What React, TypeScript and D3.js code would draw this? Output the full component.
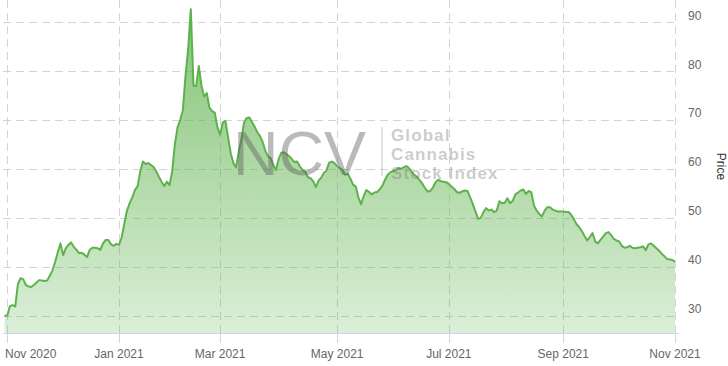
import React from 'react';
import * as d3 from 'd3';

const WIDTH = 728;
const HEIGHT = 366;

// Trading calendar (x categories)
const firstTradingDay = '2020-10-30';
const lastTradingDay = '2021-11-01';
const marketHolidays = [
  '2020-11-26', '2020-12-25', '2021-01-01', '2021-01-18', '2021-02-15',
  '2021-04-02', '2021-05-31', '2021-07-05', '2021-09-06',
];

// Index closing price, one per trading day
const prices = [
  30.1, 30.0, 32.0, 32.2, 31.9, 36.5, 37.7, 37.5, 36.3, 36.0, 35.9, 36.3, 36.8, 37.3, 37.2, 37.1, 37.2,
  38.2, 39.3, 41.0, 43.0, 44.8, 42.4, 43.8, 44.5, 45.0, 44.1, 43.5, 42.8, 42.9, 42.5, 42.0, 43.5,
  43.9, 43.9, 43.8, 43.5, 44.8, 45.5, 45.5, 44.6, 44.3, 44.7, 44.5, 46.0, 48.8, 51.5, 53.0, 54.2,
  55.7, 56.5, 59.5, 61.5, 61.0, 61.2, 60.8, 60.4, 59.5, 58.4, 57.4, 56.5, 57.4, 56.7, 59.5, 65.0,
  68.5, 70.0, 72.0, 79.0, 84.5, 92.6, 77.0, 76.9, 81.0, 77.0, 74.8, 75.5, 72.5, 71.8, 71.5, 68.5,
  67.0, 69.5, 69.8, 66.5, 63.2, 61.2, 60.3, 63.5, 66.0, 69.5, 70.4, 70.5, 69.6, 68.6, 67.5, 66.7,
  65.5, 63.7, 62.6, 62.2, 60.8, 59.8, 62.0, 63.3, 63.4, 63.0, 62.6, 62.0, 61.4, 61.5, 60.5, 59.8,
  59.4, 58.3, 58.1, 57.5, 56.3, 57.6, 58.2, 59.2, 59.7, 61.3, 61.5, 61.2, 60.6, 60.1, 59.8, 58.8,
  59.0, 58.0, 56.8, 56.4, 54.2, 52.8, 54.5, 55.7, 55.3, 54.8, 55.2, 55.3, 55.8, 56.6, 57.8, 58.8,
  59.3, 59.6, 59.7, 60.2, 60.0, 60.3, 60.6, 60.2, 59.4, 58.8, 58.4, 57.7, 57.0, 56.1, 55.4, 55.5,
  56.2, 57.3, 57.8, 57.5, 57.4, 57.3, 56.9, 56.4, 55.9, 55.3, 55.1, 55.4, 55.6, 55.5, 54.2, 52.8,
  51.3, 49.8, 50.0, 51.2, 52.0, 51.5, 51.7, 51.2, 51.5, 53.4, 53.0, 53.1, 54.0, 53.0, 53.5, 54.8,
  55.2, 55.6, 55.8, 54.9, 55.5, 55.2, 52.5, 51.5, 50.8, 50.3, 51.5, 52.2, 52.2, 51.7, 51.5, 51.3,
  51.3, 51.3, 51.2, 51.2, 50.6, 49.7, 48.7, 48.1, 47.3, 46.3, 45.4, 46.1, 46.9, 45.2, 44.8, 45.5,
  46.2, 46.9, 47.1, 46.5, 45.7, 45.4, 45.2, 44.3, 43.9, 44.0, 44.3, 43.9, 43.8, 43.9, 44.0, 44.2,
  43.4, 44.6, 44.8, 44.3, 43.8, 43.3, 42.7, 42.2, 41.6, 41.5, 41.4, 41.1,
];

const xTickMonths = ['2020-11', '2021-01', '2021-03', '2021-05', '2021-07', '2021-09', '2021-11'];
const yTicks = [30, 40, 50, 60, 70, 80, 90];
const yDomain = [26.5, 94.5];
const yTitle = 'Price';
const watermarkBrand = 'NCV';
const watermarkLines = ['Global', 'Cannabis', 'Stock Index'];

const parseDay = d3.timeParse('%Y-%m-%d');
const parseMonth = d3.timeParse('%Y-%m');
const fmtMonth = d3.timeFormat('%b %Y');
const fmtDay = d3.timeFormat('%Y-%m-%d');

const holidaySet = new Set(marketHolidays);
const tradingDates = d3.timeDay
  .range(parseDay(firstTradingDay)!, d3.timeDay.offset(parseDay(lastTradingDay)!, 1))
  .filter((d) => d.getDay() !== 0 && d.getDay() !== 6 && !holidaySet.has(fmtDay(d)));

const FONT = '"Liberation Sans", Arial, Helvetica, sans-serif';

const plot = { left: 3, right: 675, top: 0, bottom: 333 };

function textWidth(s: string, font: string) {
  if (typeof document === 'undefined') return s.length * 6.5;
  const c = document.createElement('canvas').getContext('2d');
  if (!c) return s.length * 6.5;
  c.font = font;
  return c.measureText(s).width;
}

export default function App() {
  const n = Math.min(tradingDates.length, prices.length);
  const x = d3.scaleLinear().domain([0, n - 1]).range([4.6, plot.right]);
  const y = d3.scaleLinear().domain(yDomain).range([plot.bottom, plot.top]);

  const data = d3.range(n).map((i) => ({ i, date: tradingDates[i], v: prices[i] }));

  const line = d3.line<{ i: number; v: number }>().x((d) => x(d.i)).y((d) => y(d.v));
  const area = d3
    .area<{ i: number; v: number }>()
    .x((d) => x(d.i))
    .y0(plot.bottom)
    .y1((d) => y(d.v));

  const xTicks = xTickMonths.map((m) => {
    const md = parseMonth(m)!;
    const idx = d3.bisectLeft(tradingDates, md);
    return { label: fmtMonth(md), x: x(Math.min(idx, n - 1)) };
  });

  const labelFont = `12px ${FONT}`;
  const gridColor = '#d4d4d4';
  const dash = '8,5';

  return (
    <div style={{ position: 'fixed', left: 0, top: 0, width: WIDTH, height: HEIGHT, background: '#fff' }}>
      <svg width={WIDTH} height={HEIGHT} style={{ display: 'block' }} fontFamily={FONT}>
        <defs>
          <linearGradient id="areaFill" gradientUnits="userSpaceOnUse" x1="0" y1={plot.top} x2="0" y2={plot.bottom}>
            <stop offset="0" stopColor="#5eb24c" stopOpacity={0.78} />
            <stop offset="1" stopColor="#5eb24c" stopOpacity={0.22} />
          </linearGradient>
        </defs>

        {/* horizontal grid */}
        {yTicks.map((t) => (
          <line key={'h' + t} x1={plot.left} x2={plot.right} y1={Math.round(y(t)) + 0.5} y2={Math.round(y(t)) + 0.5}
            stroke={gridColor} strokeWidth={1} strokeDasharray={dash} />
        ))}
        {/* vertical grid */}
        {xTicks.map((t) => (
          <line key={'v' + t.label} x1={Math.round(t.x) + 0.5} x2={Math.round(t.x) + 0.5} y1={plot.top} y2={plot.bottom}
            stroke={gridColor} strokeWidth={1} strokeDasharray={dash} />
        ))}

        <path d={area(data) || ''} fill="url(#areaFill)" />
        <path d={line(data) || ''} fill="none" stroke="#5eb24c" strokeWidth={2} strokeLinejoin="round" />

        {/* watermark */}
        <g pointerEvents="none">
          <text x={233} y={175} fontSize={63} fill="rgba(90,90,90,0.42)" fontFamily={FONT}>{watermarkBrand}</text>
          <line x1={382} x2={382} y1={127} y2={176} stroke="rgba(120,120,120,0.35)" strokeWidth={1.2} />
          {watermarkLines.map((s, k) => (
            <text key={s} x={391} y={140.5 + k * 19.2} fontSize={17} fontWeight="bold" letterSpacing={1.1}
              fill="rgba(120,120,120,0.38)">{s}</text>
          ))}
        </g>

        {/* x axis */}
        <line x1={plot.left} x2={plot.right + 4} y1={plot.bottom + 0.5} y2={plot.bottom + 0.5} stroke="#ccd6eb" strokeWidth={1} />
        {xTicks.map((t) => {
          const w = textWidth(t.label, labelFont);
          const cx = Math.max(t.x, 5 + w / 2);
          return (
            <g key={'xt' + t.label}>
              <line x1={Math.round(t.x) + 0.5} x2={Math.round(t.x) + 0.5} y1={plot.bottom} y2={plot.bottom + 10} stroke="#ccd6eb" />
              <text x={cx} y={358} textAnchor="middle" fontSize={12} fill="#666">{t.label}</text>
            </g>
          );
        })}

        {/* y axis labels (right) */}
        {yTicks.map((t) => (
          <text key={'yl' + t} x={688} y={y(t) - 2.5} fontSize={12} fill="#666">{t}</text>
        ))}
        <text transform={`translate(716.5, ${(plot.top + plot.bottom) / 2}) rotate(90)`} textAnchor="middle" fontSize={12} fill="#333">
          {yTitle}
        </text>
      </svg>
    </div>
  );
}
